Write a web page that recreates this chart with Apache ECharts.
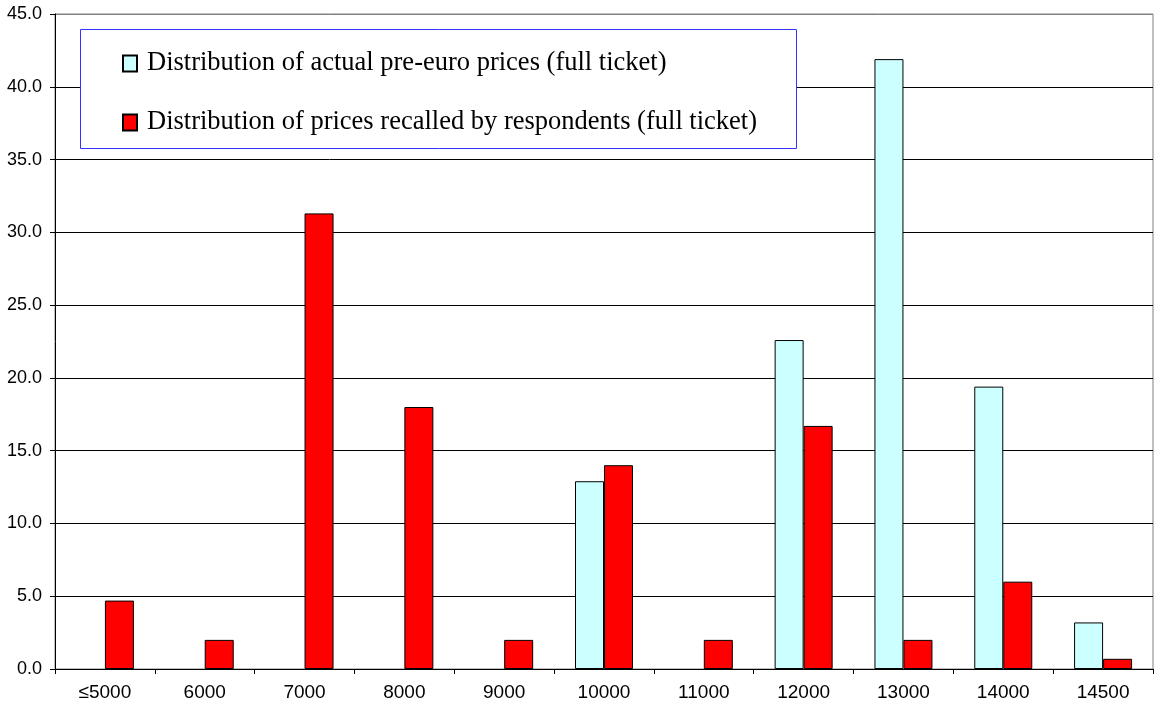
<!DOCTYPE html>
<html>
<head>
<meta charset="utf-8">
<script src="https://cdn.jsdelivr.net/npm/echarts@6/dist/echarts.min.js"></script>
<style>
  html, body { margin: 0; padding: 0; background: #fff; }
  #chart { width: 1155px; height: 706px; }
</style>
</head>
<body>
<div id="chart"></div>
<script>
// price buckets (lire)
var categories = ['≤5000', '6000', '7000', '8000', '9000', '10000', '11000', '12000', '13000', '14000', '14500'];
// distribution of actual pre-euro prices (%)
var actualPrices = [null, null, null, null, null, 12.9, null, 22.6, 41.9, 19.4, 3.2];
// distribution of prices recalled by respondents (%)
var recalledPrices = [4.7, 2.0, 31.3, 18.0, 2.0, 14.0, 2.0, 16.7, 2.0, 6.0, 0.7];
var yTicks = [0, 5, 10, 15, 20, 25, 30, 35, 40, 45];

var chart = echarts.init(document.getElementById('chart'));

// gridlines black, the top one is the gray frame
var gridColors = yTicks.map(function (v, i) { return i === yTicks.length - 1 ? '#808080' : '#000'; });

var option = {
  animation: false,
  backgroundColor: '#fff',
  grid: {
    left: 55,
    right: 2,
    top: 14,
    bottom: 37,
    show: true,
    borderColor: '#808080',
    borderWidth: 1,
    backgroundColor: 'transparent'
  },
  graphic: [{
    type: 'rect',
    left: 80,
    top: 29,
    shape: { width: 716, height: 119 },
    style: { fill: '#fff', stroke: '#3333ff', lineWidth: 1 },
    z: 5
  }],
  legend: {
    orient: 'vertical',
    left: 117,
    top: 45,
    itemGap: 32,
    itemWidth: 14,
    itemHeight: 16,
    icon: 'rect',
    z: 10,
    textStyle: {
      fontFamily: '"Liberation Serif", "Times New Roman", serif',
      fontSize: 26.5,
      color: '#000',
      lineHeight: 27,
      padding: [0, 0, 0, 5]
    },
    data: [
      'Distribution of actual pre-euro prices (full ticket)',
      'Distribution of prices recalled by respondents (full ticket)'
    ]
  },
  xAxis: {
    type: 'category',
    data: categories,
    axisLine: { lineStyle: { color: '#000', width: 1 } },
    axisTick: { show: true, length: 5, lineStyle: { color: '#000' } },
    axisLabel: {
      margin: 14,
      color: '#000',
      fontFamily: '"Liberation Sans", Arial, sans-serif',
      fontSize: 19
    },
    splitLine: { show: false }
  },
  yAxis: {
    type: 'value',
    min: 0,
    max: 45,
    interval: 5,
    axisLine: { show: true, lineStyle: { color: '#000', width: 1 } },
    axisTick: { show: true, length: 5, lineStyle: { color: '#000' } },
    axisLabel: {
      margin: 13,
      color: '#000',
      fontFamily: '"Liberation Sans", Arial, sans-serif',
      fontSize: 18,
      formatter: function (v) { return v.toFixed(1); }
    },
    splitLine: { show: true, lineStyle: { color: gridColors, width: 1 } }
  },
  series: [{
    name: 'Distribution of actual pre-euro prices (full ticket)',
    type: 'bar',
    data: actualPrices,
    barWidth: 29,
    barGap: '0%',
    itemStyle: { color: '#CCFFFF', borderColor: '#000', borderWidth: 1 }
  }, {
    name: 'Distribution of prices recalled by respondents (full ticket)',
    type: 'bar',
    data: recalledPrices,
    barWidth: 29,
    barGap: '0%',
    itemStyle: { color: '#FF0000', borderColor: '#000', borderWidth: 1 }
  }]
};

chart.setOption(option);
</script>
</body>
</html>
